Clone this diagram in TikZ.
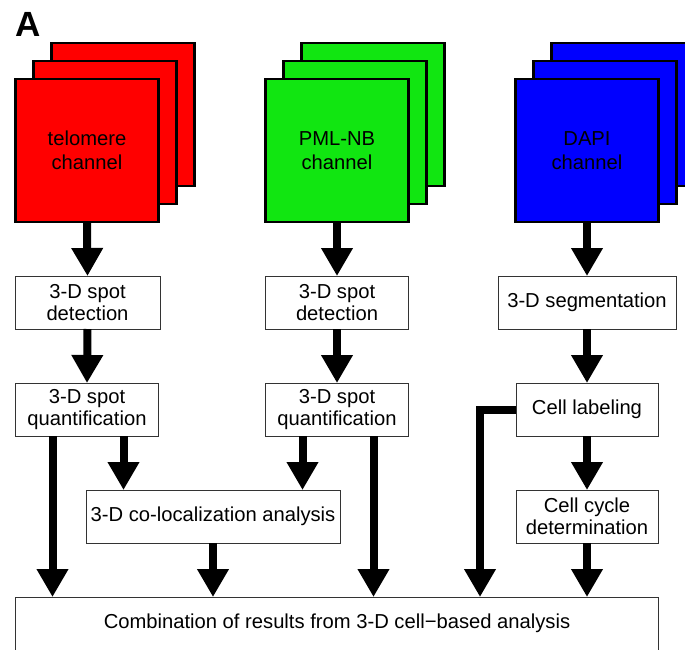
\documentclass[tikz,border=0pt]{standalone}
\usepackage{fontspec}
\setmainfont{Liberation Sans}
\usetikzlibrary{arrows.meta,calc}
\definecolor{chred}{RGB}{255,0,0}
\definecolor{chgreen}{RGB}{17,230,17}
\definecolor{chblue}{RGB}{0,0,255}
\tikzset{
  sheet/.style={draw=black, line width=2.6pt, minimum width=143pt, minimum height=143pt, inner sep=0pt, outer sep=0pt},
  procbox/.style={draw=black!80, line width=1pt, fill=white, inner sep=0pt, outer sep=0pt, align=center,
     font=\fontsize{20.2}{22}\selectfont},
  chtext/.style={align=center, font=\fontsize{20.2}{24}\selectfont},
  arr/.style={line width=8pt, -{Triangle[width=30pt,length=28pt]}},
  elbow/.style={line width=8pt, -{Triangle[width=30pt,length=28pt]}}
}
\begin{document}
\begin{tikzpicture}[x=1pt,y=-1pt]
\useasboundingbox (0,0) rectangle (685,649);
\clip (0,0) rectangle (685,649);
% label
\node[anchor=north west, inner sep=0pt, font=\fontsize{35}{35}\bfseries\selectfont] (lbl) at (15,12) {A};
% telomere stack
\node[sheet, fill=chred] (tel3) at (123,114.5) {};
\node[sheet, fill=chred] (tel2) at (105,132.5) {};
\node[sheet, fill=chred, chtext] (tel) at (87,150.5) {telomere\\channel};
% PML stack
\node[sheet, fill=chgreen] (pml3) at (373,114.5) {};
\node[sheet, fill=chgreen] (pml2) at (355,132.5) {};
\node[sheet, fill=chgreen, chtext] (pml) at (337,150.5) {PML-NB\\channel};
% DAPI stack
\node[sheet, fill=chblue] (dapi3) at (623,114.5) {};
\node[sheet, fill=chblue] (dapi2) at (605,132.5) {};
\node[sheet, fill=chblue, chtext] (dapi) at (587,150.5) {DAPI\\channel};
% process boxes
\node[procbox, minimum width=145pt, minimum height=53pt] (det1) at (87.5,302.5) {3-D spot\\detection};
\node[procbox, minimum width=143pt, minimum height=53pt] (qua1) at (87,409.5) {3-D spot\\quantification};
\node[procbox, minimum width=143pt, minimum height=53pt] (det2) at (337,302.5) {3-D spot\\detection};
\node[procbox, minimum width=143pt, minimum height=53pt] (qua2) at (337,409.5) {3-D spot\\quantification};
\node[procbox, minimum width=178pt, minimum height=53pt] (seg) at (587,302.5) {3-D segmentation};
\node[procbox, minimum width=142pt, minimum height=53pt] (lab) at (587,409.5) {Cell labeling};
\node[procbox, minimum width=142pt, minimum height=53pt] (cyc) at (587,516.5) {Cell cycle\\determination};
\node[procbox, minimum width=254pt, minimum height=53pt] (col) at (213,516.5) {3-D co-localization analysis};
\node[procbox, minimum width=643pt, minimum height=70pt] (comb) at (336.5,632) {};
\node[font=\fontsize{20.2}{22}\selectfont, inner sep=0pt] (combt) at (337,623) {Combination of results from 3-D cell−based analysis};
% arrows
\draw[arr] (tel.south) -- (det1.north);
\draw[arr] (det1.south) -- (qua1.north);
\draw[arr] (pml.south) -- (det2.north);
\draw[arr] (det2.south) -- (qua2.north);
\draw[arr] (dapi.south) -- (seg.north);
\draw[arr] (seg.south) -- (lab.north);
\draw[arr] (lab.south) -- (cyc.north);
\draw[arr] (cyc.south) -- (comb.north -| cyc.south);
\draw[arr] ([xshift=37pt]qua1.south west) -- ([xshift=37pt]qua1.south west |- comb.north);
\draw[arr] ([xshift=108pt]qua1.south west) -- ([xshift=108pt]qua1.south west |- col.north);
\draw[arr] ([xshift=37pt]qua2.south west) -- ([xshift=37pt]qua2.south west |- col.north);
\draw[arr] ([xshift=108pt]qua2.south west) -- ([xshift=108pt]qua2.south west |- comb.north);
\draw[arr] (col.south) -- (comb.north -| col.south);
\coordinate (elb) at ([xshift=-36pt]lab.west);
\draw[elbow] (lab.west) -- (elb) -- (elb |- comb.north);
\end{tikzpicture}
\end{document}
